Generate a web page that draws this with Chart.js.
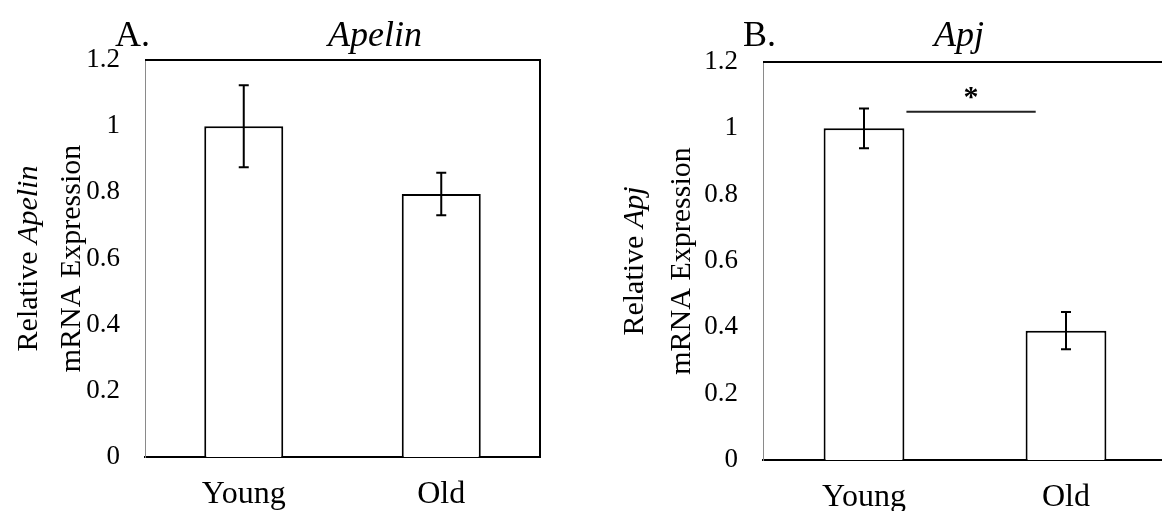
<!DOCTYPE html>
<html>
<head>
<meta charset="utf-8">
<script src="https://cdn.jsdelivr.net/npm/chart.js@4.4.0/dist/chart.umd.min.js"></script>
<style>
  html, body { margin: 0; padding: 0; background: #fff; overflow: hidden; width: 1162px; height: 511px; }
  .panel { position: absolute; top: 0; height: 511px; }
  #panelA { left: 0; width: 580px; }
  #panelB { left: 590px; width: 590px; }
</style>
</head>
<body>
<div class="panel" id="panelA"><canvas id="apelinChart"></canvas></div>
<div class="panel" id="panelB"><canvas id="apjChart"></canvas></div>
<script>
const groups = ['Young', 'Old'];
const apelinValues = [1.0, 0.795];
const apelinErrors = [0.124, 0.064];
const apjValues = [1.0, 0.39];
const apjErrors = [0.06, 0.056];
const yTicks = [0, 0.2, 0.4, 0.6, 0.8, 1, 1.2];
// significance bracket between the two Apj groups (x in category index units)
const apjSig = { from: 0.21, to: 0.85, y: 1.05, label: '*' };

const SERIF = "'Liberation Serif', 'Times New Roman', serif";

// draws frame top/right, error bars, panel titles, the rotated y title and the star
const panelDecor = {
  id: 'panelDecor',
  afterDraw(chart, args, opts) {
    const { ctx, chartArea } = chart;
    const xs = chart.scales.x;
    const ys = chart.scales.y;
    ctx.save();

    ctx.strokeStyle = '#000';
    ctx.lineWidth = 2;
    ctx.beginPath();
    ctx.moveTo(chartArea.left, chartArea.top);
    ctx.lineTo(chartArea.right, chartArea.top);
    ctx.lineTo(chartArea.right, chartArea.bottom);
    ctx.stroke();

    // error bars
    const meta = chart.getDatasetMeta(0);
    const values = chart.data.datasets[0].data;
    ctx.lineWidth = 2;
    meta.data.forEach((bar, i) => {
      const err = opts.errors[i];
      const top = ys.getPixelForValue(values[i] + err);
      const bot = ys.getPixelForValue(values[i] - err);
      ctx.beginPath();
      ctx.moveTo(bar.x, top);
      ctx.lineTo(bar.x, bot);
      ctx.moveTo(bar.x - 5, top);
      ctx.lineTo(bar.x + 5, top);
      ctx.moveTo(bar.x - 5, bot);
      ctx.lineTo(bar.x + 5, bot);
      ctx.stroke();
    });

    // panel letter + gene title
    ctx.fillStyle = '#000';
    ctx.textBaseline = 'alphabetic';
    ctx.textAlign = 'left';
    ctx.font = `36px ${SERIF}`;
    ctx.fillText(opts.letter, opts.letterX, 46);
    ctx.textAlign = 'center';
    ctx.font = `italic 36px ${SERIF}`;
    ctx.fillText(opts.gene, opts.geneX, 46);

    // y axis title, two lines, mixed italic
    const cy = (chartArea.top + chartArea.bottom) / 2;
    opts.yTitle.forEach((parts, li) => {
      ctx.save();
      ctx.translate(opts.yTitleX[li], cy);
      ctx.rotate(-Math.PI / 2);
      ctx.textAlign = 'left';
      let total = 0;
      parts.forEach(p => {
        ctx.font = `${p.italic ? 'italic ' : ''}30px ${SERIF}`;
        total += ctx.measureText(p.text).width;
      });
      let pos = -total / 2;
      parts.forEach(p => {
        ctx.font = `${p.italic ? 'italic ' : ''}30px ${SERIF}`;
        ctx.fillText(p.text, pos, 0);
        pos += ctx.measureText(p.text).width;
      });
      ctx.restore();
    });

    // significance line and star
    if (opts.sig) {
      const ly = ys.getPixelForValue(opts.sig.y);
      const x1 = xs.getPixelForValue(opts.sig.from);
      const x2 = xs.getPixelForValue(opts.sig.to);
      ctx.strokeStyle = '#222';
      ctx.lineWidth = 2;
      ctx.beginPath();
      ctx.moveTo(x1, ly);
      ctx.lineTo(x2, ly);
      ctx.stroke();
      ctx.textAlign = 'center';
      ctx.font = `bold 30px ${SERIF}`;
      ctx.fillText(opts.sig.label, (x1 + x2) / 2, ly - 6);
    }

    ctx.restore();
  }
};

function createPanelChart(ctx, values, cfg) {
  return new Chart(ctx, {
    type: 'bar',
    data: {
      labels: groups,
      datasets: [
        {
          data: values,
          backgroundColor: '#ffffff',
          borderColor: '#000000',
          borderWidth: 2,
          barPercentage: 0.4,
          categoryPercentage: 1
        }
      ]
    },
    options: {
      responsive: true,
      maintainAspectRatio: false,
      animation: false,
      layout: { padding: { top: cfg.top, right: cfg.right, left: 0, bottom: 0 } },
      scales: {
        x: {
          grid: { display: false, drawTicks: false },
          border: { display: true, color: '#000', width: 2 },
          ticks: { color: '#000', padding: 18, font: { family: SERIF, size: 32 } },
          afterFit: s => { s.height = cfg.xHeight; }
        },
        y: {
          min: 0,
          max: 1.2,
          grid: { display: false, drawTicks: false },
          border: { display: true, color: '#8a8a8a', width: 1 },
          ticks: {
            color: '#000',
            padding: 25,
            font: { family: SERIF, size: 27 },
            callback: v => String(+v.toFixed(1))
          },
          afterBuildTicks: s => { s.ticks = yTicks.map(v => ({ value: v })); },
          afterFit: s => { s.width = cfg.yWidth; }
        }
      },
      plugins: {
        legend: { display: false },
        tooltip: { enabled: false },
        panelDecor: cfg.decor
      }
    },
    plugins: [panelDecor]
  });
}

const apelinChart = createPanelChart(
  document.getElementById('apelinChart').getContext('2d'),
  apelinValues,
  {
    top: 60, right: 40, xHeight: 54, yWidth: 145,
    decor: {
      errors: apelinErrors,
      letter: 'A.', letterX: 115,
      gene: 'Apelin', geneX: 375,
      yTitle: [
        [{ text: 'Relative ', italic: false }, { text: 'Apelin', italic: true }],
        [{ text: 'mRNA Expression', italic: false }]
      ],
      yTitleX: [37, 80]
    }
  }
);

const apjChart = createPanelChart(
  document.getElementById('apjChart').getContext('2d'),
  apjValues,
  {
    top: 62, right: 13, xHeight: 51, yWidth: 173,
    decor: {
      errors: apjErrors,
      letter: 'B.', letterX: 153,
      gene: 'Apj', geneX: 369,
      yTitle: [
        [{ text: 'Relative ', italic: false }, { text: 'Apj', italic: true }],
        [{ text: 'mRNA Expression', italic: false }]
      ],
      yTitleX: [53, 100],
      sig: apjSig
    }
  }
);
</script>
</body>
</html>
